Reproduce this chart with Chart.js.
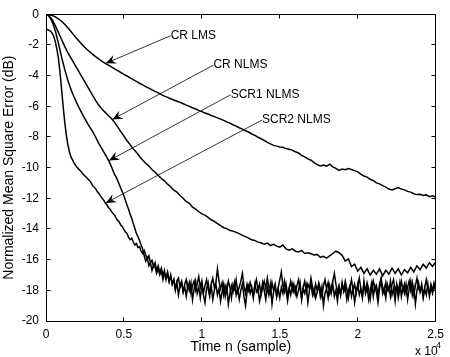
<!DOCTYPE html>
<html>
<head>
<meta charset="utf-8">
<script src="https://cdn.jsdelivr.net/npm/chart.js@4.4.0/dist/chart.umd.min.js"></script>
<style>
  html, body { margin: 0; padding: 0; background: #fff; }
  #wrap { width: 450px; height: 357px; }
</style>
</head>
<body>
<div id="wrap"><canvas id="mseChart" width="450" height="357"></canvas></div>
<script>
// sample index n (axis shows it in units of 10^4)
const sampleN = [
    0, 200, 400, 600, 800, 1000, 1200, 1400, 1600, 1800,
    2000, 2200, 2400, 2600, 2800, 3000, 3200, 3400, 3600, 3800,
    4000, 4200, 4400, 4600, 4800, 5000, 5200, 5400, 5600, 5800,
    6000, 6200, 6400, 6600, 6800, 7000, 7200, 7400, 7600, 7800,
    8000, 8200, 8400, 8600, 8800, 9000, 9200, 9400, 9600, 9800,
    10000, 10200, 10400, 10600, 10800, 11000, 11200, 11400, 11600, 11800,
    12000, 12200, 12400, 12600, 12800, 13000, 13200, 13400, 13600, 13800,
    14000, 14200, 14400, 14600, 14800, 15000, 15200, 15400, 15600, 15800,
    16000, 16200, 16400, 16600, 16800, 17000, 17200, 17400, 17600, 17800,
    18000, 18200, 18400, 18600, 18800, 19000, 19200, 19400, 19600, 19800,
    20000, 20200, 20400, 20600, 20800, 21000, 21200, 21400, 21600, 21800,
    22000, 22200, 22400, 22600, 22800, 23000, 23200, 23400, 23600, 23800,
    24000, 24200, 24400, 24600, 24800, 25000
];
// finer sampling for the two noisy SCR curves
const sampleNFine = [
    0, 100, 200, 300, 400, 500, 600, 700, 800, 900,
    1000, 1100, 1200, 1300, 1400, 1500, 1600, 1700, 1800, 1900,
    2000, 2100, 2200, 2300, 2400, 2500, 2600, 2700, 2800, 2900,
    3000, 3100, 3200, 3300, 3400, 3500, 3600, 3700, 3800, 3900,
    4000, 4100, 4200, 4300, 4400, 4500, 4600, 4700, 4800, 4900,
    5000, 5100, 5200, 5300, 5400, 5500, 5600, 5700, 5800, 5900,
    6000, 6100, 6200, 6300, 6400, 6500, 6600, 6700, 6800, 6900,
    7000, 7100, 7200, 7300, 7400, 7500, 7600, 7700, 7800, 7900,
    8000, 8100, 8200, 8300, 8400, 8500, 8600, 8700, 8800, 8900,
    9000, 9100, 9200, 9300, 9400, 9500, 9600, 9700, 9800, 9900,
    10000, 10100, 10200, 10300, 10400, 10500, 10600, 10700, 10800, 10900,
    11000, 11100, 11200, 11300, 11400, 11500, 11600, 11700, 11800, 11900,
    12000, 12100, 12200, 12300, 12400, 12500, 12600, 12700, 12800, 12900,
    13000, 13100, 13200, 13300, 13400, 13500, 13600, 13700, 13800, 13900,
    14000, 14100, 14200, 14300, 14400, 14500, 14600, 14700, 14800, 14900,
    15000, 15100, 15200, 15300, 15400, 15500, 15600, 15700, 15800, 15900,
    16000, 16100, 16200, 16300, 16400, 16500, 16600, 16700, 16800, 16900,
    17000, 17100, 17200, 17300, 17400, 17500, 17600, 17700, 17800, 17900,
    18000, 18100, 18200, 18300, 18400, 18500, 18600, 18700, 18800, 18900,
    19000, 19100, 19200, 19300, 19400, 19500, 19600, 19700, 19800, 19900,
    20000, 20100, 20200, 20300, 20400, 20500, 20600, 20700, 20800, 20900,
    21000, 21100, 21200, 21300, 21400, 21500, 21600, 21700, 21800, 21900,
    22000, 22100, 22200, 22300, 22400, 22500, 22600, 22700, 22800, 22900,
    23000, 23100, 23200, 23300, 23400, 23500, 23600, 23700, 23800, 23900,
    24000, 24100, 24200, 24300, 24400, 24500, 24600, 24700, 24800, 24900,
    25000
];

// NMSE in dB
const crLms = [
    0, -0.02, -0.08, -0.17, -0.30, -0.46, -0.66, -0.89, -1.13, -1.38,
    -1.62, -1.85, -2.07, -2.27, -2.45, -2.62, -2.78, -2.93, -3.07, -3.2,
    -3.32, -3.44, -3.56, -3.68, -3.8, -3.92, -4.03, -4.15, -4.27, -4.38,
    -4.5, -4.61, -4.72, -4.82, -4.93, -5.03, -5.13, -5.24, -5.34, -5.42,
    -5.51, -5.59, -5.67, -5.75, -5.84, -5.93, -6.01, -6.1, -6.18, -6.27,
    -6.35, -6.44, -6.51, -6.6, -6.68, -6.76, -6.84, -6.92, -7.02, -7.1,
    -7.21, -7.3, -7.4, -7.49, -7.6, -7.68, -7.81, -7.9, -8.02, -8.12,
    -8.22, -8.36, -8.45, -8.55, -8.6, -8.66, -8.68, -8.76, -8.8, -8.86,
    -8.97, -9.05, -9.2, -9.3, -9.43, -9.52, -9.68, -9.8, -9.9, -9.84,
    -9.9, -9.78, -9.95, -10.05, -10.18, -10.1, -10.14, -10.06, -10.12, -10.2,
    -10.28, -10.42, -10.55, -10.62, -10.76, -10.85, -11.0, -11.06, -11.18, -11.27,
    -11.4, -11.46, -11.38, -11.3, -11.4, -11.45, -11.55, -11.6, -11.7, -11.76,
    -11.74, -11.82, -11.78, -11.9, -11.84, -11.92
];
const crNlms = [
    0, -0.1, -0.35, -0.75, -1.2, -1.65, -2.1, -2.5, -2.85, -3.2,
    -3.55, -3.9, -4.25, -4.6, -4.95, -5.3, -5.65, -5.95, -6.2, -6.4,
    -6.6, -6.8, -7.05, -7.35, -7.65, -7.95, -8.25, -8.5, -8.78, -9.0,
    -9.27, -9.5, -9.72, -9.9, -10.12, -10.3, -10.52, -10.7, -10.86, -11.08,
    -11.25, -11.47, -11.6, -11.82, -12.0, -12.22, -12.33, -12.58, -12.7, -12.88,
    -13.02, -13.1, -13.25, -13.4, -13.5, -13.65, -13.78, -13.92, -13.98, -14.1,
    -14.14, -14.22, -14.3, -14.42, -14.5, -14.6, -14.7, -14.75, -14.86, -14.9,
    -15.0, -14.92, -15.08, -15.0, -15.12, -15.18, -15.05, -15.3, -15.38, -15.3,
    -15.45, -15.5, -15.4, -15.6, -15.55, -15.62, -15.7, -15.66, -15.85, -15.78,
    -15.9, -15.75, -15.6, -15.45, -15.55, -15.72, -16.1, -15.95, -16.45, -16.3,
    -16.75, -16.5, -16.9, -16.6, -17.0, -16.7, -16.95, -16.6, -17.05, -16.7,
    -16.95, -16.55, -16.9, -16.6, -17.0, -16.65, -16.85, -16.5, -16.8, -16.4,
    -16.65, -16.3, -16.55, -16.2, -16.45, -16.15
];
const scr1Nlms = [
    0, -0.04, -0.15, -0.3, -0.5, -0.78, -1.1, -1.5, -1.9, -2.35,
    -2.8, -3.2, -3.6, -3.95, -4.3, -4.6, -4.9, -5.15, -5.4, -5.62,
    -5.85, -6.05, -6.25, -6.45, -6.65, -6.82, -7.0, -7.18, -7.35, -7.5,
    -7.65, -7.86, -8.05, -8.24, -8.45, -8.62, -8.8, -8.98, -9.15, -9.32,
    -9.5, -9.72, -9.95, -10.2, -10.45, -10.62, -10.85, -11.1, -11.35, -11.58,
    -11.85, -12.15, -12.45, -12.72, -13.05, -13.3, -13.65, -13.95, -14.3, -14.5,
    -14.75, -15.05, -15.3, -15.75, -16.1, -15.9, -16.4, -16.2, -16.7, -16.35,
    -16.5, -16.9, -16.6, -17.0, -16.7, -17.3, -16.9, -17.2, -16.8, -17.4,
    -17.1, -17.6, -17.3, -17.9, -17.4, -17.2, -17.8, -17.5, -18.1, -17.6,
    -17.3, -17.9, -17.5, -18.2, -17.7, -17.4, -18.0, -17.6, -17.1, -17.8,
    -17.4, -18.2, -17.7, -17.3, -17.9, -18.4, -17.6, -17.2, -17.8, -17.5,
    -16.6, -17.4, -17.9, -17.5, -18.3, -17.7, -18.0, -17.4, -17.8, -18.5,
    -17.6, -17.9, -17.3, -18.1, -17.8, -17.4, -16.9, -17.7, -18.2, -17.6,
    -18.0, -17.5, -17.9, -18.4, -17.7, -17.3, -18.0, -17.6, -18.3, -17.8,
    -17.4, -17.9, -17.2, -17.8, -18.2, -17.5, -18.0, -17.6, -18.4, -17.8,
    -17.3, -16.8, -17.7, -18.1, -17.6, -18.3, -17.9, -17.4, -18.0, -17.6,
    -18.2, -17.7, -17.3, -17.9, -18.5, -17.8, -17.4, -18.1, -17.6, -17.9,
    -17.2, -17.8, -18.3, -17.6, -18.0, -17.5, -17.9, -18.4, -17.7, -17.3,
    -17.9, -17.5, -18.2, -17.8, -17.4, -16.9, -17.6, -18.1, -17.7, -18.3,
    -17.6, -18.0, -17.4, -17.9, -18.5, -17.8, -17.3, -18.0, -17.6, -18.2,
    -17.7, -17.2, -17.9, -18.4, -17.6, -18.1, -17.5, -17.9, -18.6, -17.8,
    -17.4, -18.0, -17.7, -18.3, -17.6, -17.2, -17.9, -18.2, -17.5, -18.0,
    -17.8, -18.4, -17.6, -17.3, -18.1, -17.7, -18.5, -17.9, -17.4, -18.0,
    -17.6, -18.2, -17.8, -17.4, -18.0, -17.5, -18.3, -17.7, -17.2, -17.9,
    -18.1, -17.6, -18.4, -17.8, -17.3, -17.9, -18.2, -17.6, -18.0, -17.5,
    -17.8
];
const scr2Nlms = [
    -1.0, -1.0, -1.05, -1.12, -1.25, -1.45, -1.8, -2.3, -2.9, -3.8,
    -4.9, -6.0, -7.0, -7.85, -8.5, -8.95, -9.3, -9.5, -9.7, -9.85,
    -10.0, -10.1, -10.2, -10.32, -10.45, -10.55, -10.65, -10.75, -10.85, -11.0,
    -11.2, -11.28, -11.4, -11.58, -11.7, -11.86, -12.0, -12.12, -12.3, -12.42,
    -12.6, -12.7, -12.85, -13.0, -13.1, -13.3, -13.45, -13.55, -13.75, -13.85,
    -14.05, -14.2, -14.3, -14.55, -14.7, -14.6, -14.85, -15.05, -14.95, -15.2,
    -15.15, -15.45, -15.6, -15.4, -15.7, -15.95, -15.75, -16.2, -16.05, -16.45,
    -16.2, -16.7, -16.4, -16.85, -16.55, -17.05, -16.7, -17.3, -16.9, -17.45,
    -17.0, -17.6, -17.3, -18.0, -17.5, -18.3, -17.7, -17.4, -18.1, -17.8,
    -18.4, -17.6, -18.0, -17.5, -18.6, -17.9, -17.4, -18.2, -17.8, -18.5,
    -17.7, -18.3, -18.8, -17.9, -17.5, -18.2, -17.7, -18.6, -18.0, -17.6,
    -18.3, -17.9, -18.7, -18.1, -17.6, -18.4, -17.8, -18.9, -18.2, -17.7,
    -18.1, -17.5, -18.3, -17.9, -18.6, -18.0, -17.6, -18.4, -19.0, -18.1,
    -17.7, -18.2, -17.8, -18.5, -17.6, -18.1, -17.9, -18.7, -18.2, -17.5,
    -18.0, -18.6, -17.8, -18.3, -17.6, -18.9, -18.1, -17.7, -18.4, -17.9,
    -18.5, -17.8, -18.2, -17.4, -18.0, -18.7, -17.9, -18.3, -17.6, -18.1,
    -17.8, -18.4, -18.0, -17.5, -18.6, -17.9, -18.2, -17.7, -18.8, -18.0,
    -17.6, -18.3, -17.9, -18.5, -18.1, -17.7, -18.4, -17.8, -19.0, -18.2,
    -17.9, -18.5, -17.7, -18.2, -17.6, -18.4, -18.0, -18.7, -17.8, -18.3,
    -17.5, -18.1, -17.8, -18.6, -18.0, -17.7, -18.4, -17.9, -18.8, -18.1,
    -17.6, -18.3, -17.9, -18.5, -17.4, -18.2, -17.8, -18.6, -18.0, -17.5,
    -18.4, -17.7, -18.1, -18.8, -17.9, -17.3, -18.2, -17.8, -18.5, -17.6,
    -18.0, -17.4, -18.3, -17.9, -18.7, -17.6, -18.1, -17.5, -18.4, -17.8,
    -18.2, -17.6, -18.6, -17.9, -17.4, -18.3, -17.8, -18.9, -18.0, -17.5,
    -18.1, -17.7, -18.5, -17.9, -18.3, -17.6, -18.4, -17.8, -18.2, -17.7,
    -18.0
];

// ticks
const xTickValues = [0, 5000, 10000, 15000, 20000, 25000];
const xTickLabels = ['0', '0.5', '1', '1.5', '2', '2.5'];
const yTickValues = [-20, -18, -16, -14, -12, -10, -8, -6, -4, -2, 0];
const yTickLabels = ['-20', '-18', '-16', '-14', '-12', '-10', '-8', '-6', '-4', '-2', '0'];

// arrow annotations (data coords)
const arrowLabels = ['CR LMS', 'CR NLMS', 'SCR1 NLMS', 'SCR2 NLMS'];
const arrowTipN = [3840, 4260, 4050, 3840];
const arrowTipDb = [-3.2, -6.86, -9.54, -12.3];
const labelN = [8000, 10740, 11850, 13860];
const labelDb = [-1.4, -3.32, -5.25, -6.9];

const FONT = '"Liberation Sans", Arial, Helvetica, sans-serif';


function toPoints(xs, values) {
    return values.map((v, i) => ({ x: xs[i], y: v }));
}

// snap a coordinate to the middle of a pixel for crisp 1px lines
function crisp(p) {
    return Math.round(p - 0.5) + 0.5;
}

function drawArrowHead(ctx, tx, ty, fx, fy) {
    const len = Math.hypot(tx - fx, ty - fy);
    const ux = (tx - fx) / len, uy = (ty - fy) / len;
    const px = -uy, py = ux;
    const headLen = 10, headHalf = 4.5, notch = 6.5;
    ctx.beginPath();
    ctx.moveTo(tx, ty);
    ctx.lineTo(tx - ux * headLen + px * headHalf, ty - uy * headLen + py * headHalf);
    ctx.lineTo(tx - ux * notch, ty - uy * notch);
    ctx.lineTo(tx - ux * headLen - px * headHalf, ty - uy * headLen - py * headHalf);
    ctx.closePath();
    ctx.fill();
}

// top/right frame, inward ticks, arrows and the x10^4 exponent
const matlabDecor = {
    id: 'matlabDecor',
    afterDraw(chart) {
        const ctx = chart.ctx;
        const area = chart.chartArea;
        const xs = chart.scales.x, ys = chart.scales.y;
        const l = crisp(area.left), r = crisp(area.right);
        const t = crisp(area.top), b = crisp(area.bottom);
        ctx.save();
        ctx.fillStyle = '#000';
        ctx.strokeStyle = '#000';
        ctx.lineWidth = 1;
        ctx.strokeRect(l, t, r - l, b - t);

        const tickLen = 4;
        ctx.beginPath();
        xTickValues.forEach(v => {
            const px = crisp(xs.getPixelForValue(v));
            ctx.moveTo(px, b); ctx.lineTo(px, b - tickLen);
            ctx.moveTo(px, t); ctx.lineTo(px, t + tickLen);
        });
        yTickValues.forEach(v => {
            const py = crisp(ys.getPixelForValue(v));
            ctx.moveTo(l, py); ctx.lineTo(l + tickLen, py);
            ctx.moveTo(r, py); ctx.lineTo(r - tickLen, py);
        });
        ctx.stroke();

        // annotations
        ctx.lineWidth = 0.8;
        ctx.font = '12px ' + FONT;
        ctx.textAlign = 'left';
        ctx.textBaseline = 'middle';
        arrowLabels.forEach((label, i) => {
            const tx = xs.getPixelForValue(arrowTipN[i]);
            const ty = ys.getPixelForValue(arrowTipDb[i]);
            const fx = xs.getPixelForValue(labelN[i]);
            const fy = ys.getPixelForValue(labelDb[i]);
            ctx.beginPath();
            ctx.moveTo(fx, fy);
            ctx.lineTo(tx, ty);
            ctx.stroke();
            drawArrowHead(ctx, tx, ty, fx, fy);
            ctx.fillText(label, fx, fy);
        });

        // exponent label
        ctx.font = '12px ' + FONT;
        ctx.fillText('x 10', 415, 352);
        ctx.font = '9px ' + FONT;
        ctx.fillText('4', 436, 346);
        ctx.restore();
    }
};

const seriesX = [sampleN, sampleN, sampleNFine, sampleNFine];
const seriesList = [crLms, crNlms, scr1Nlms, scr2Nlms];
const seriesNames = ['CR LMS', 'CR NLMS', 'SCR1 NLMS', 'SCR2 NLMS'];

new Chart(document.getElementById('mseChart'), {
    type: 'line',
    data: {
        datasets: seriesList.map((vals, i) => ({
            label: seriesNames[i],
            data: toPoints(seriesX[i], vals),
            borderColor: '#000',
            borderWidth: 1.5,
            pointRadius: 0,
            tension: 0,
            fill: false
        }))
    },
    options: {
        responsive: false,
        animation: false,
        devicePixelRatio: 1,
        layout: { padding: { top: 10, right: 9, left: 0, bottom: 0 } },
        plugins: {
            legend: { display: false },
            tooltip: { enabled: false }
        },
        scales: {
            x: {
                type: 'linear',
                min: 0,
                max: 25000,
                grid: { display: false, drawTicks: false },
                border: { display: true, color: '#000', width: 1 },
                afterBuildTicks: scale => { scale.ticks = xTickValues.map(v => ({ value: v })); },
                afterFit: scale => { scale.height = 36; },
                ticks: {
                    color: '#000',
                    padding: 6,
                    maxRotation: 0,
                    font: { family: FONT, size: 12 },
                    callback: (v) => xTickLabels[xTickValues.indexOf(v)]
                },
                title: {
                    display: true,
                    text: 'Time n (sample)',
                    color: '#000',
                    font: { family: FONT, size: 14 },
                    padding: { top: 0, bottom: 1.5 }
                }
            },
            y: {
                type: 'linear',
                min: -20,
                max: 0,
                grid: { display: false, drawTicks: false },
                border: { display: true, color: '#000', width: 1 },
                afterBuildTicks: scale => { scale.ticks = yTickValues.map(v => ({ value: v })); },
                afterFit: scale => { scale.width = 46; },
                ticks: {
                    color: '#000',
                    padding: 7,
                    font: { family: FONT, size: 12 },
                    callback: (v) => yTickLabels[yTickValues.indexOf(v)]
                },
                title: {
                    display: true,
                    text: 'Normalized Mean Square Error (dB)',
                    color: '#000',
                    font: { family: FONT, size: 14 },
                    padding: { top: 1, bottom: 0 }
                }
            }
        }
    },
    plugins: [matlabDecor]
});
</script>
</body>
</html>
